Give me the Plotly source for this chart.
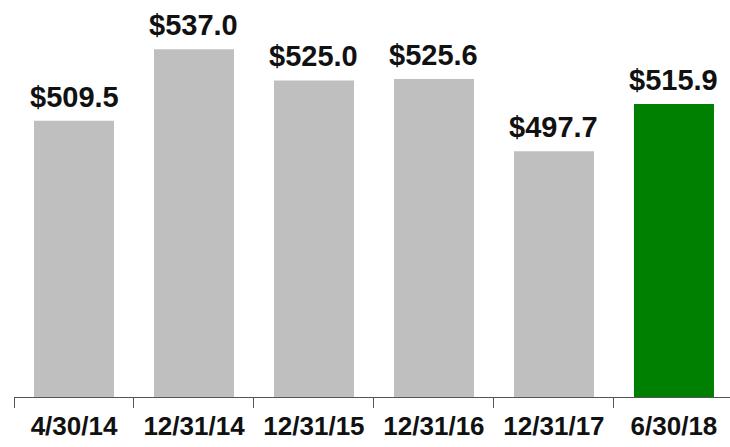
import plotly.graph_objects as go

categories = ["4/30/14", "12/31/14", "12/31/15", "12/31/16", "12/31/17", "6/30/18"]
values = [509.5, 537.0, 525.0, 525.6, 497.7, 515.9]
colors = ["#BFBFBF", "#BFBFBF", "#BFBFBF", "#BFBFBF", "#BFBFBF", "#008000"]
labels = [f"${v:.1f}" for v in values]

FONT = "Arial, Liberation Sans, sans-serif"

fig = go.Figure(
    go.Bar(
        x=categories,
        y=values,
        marker=dict(color=colors, line=dict(width=0)),
        width=0.667,
        hoverinfo="x+y",
    )
)

for c, v, t in zip(categories, values, labels):
    fig.add_annotation(
        x=c, y=v, text=t, showarrow=False,
        yanchor="bottom", xanchor="center", yshift=6,
        font=dict(family=FONT, size=29, color="#111111", weight="bold"),
    )

fig.update_layout(
    width=730,
    height=447,
    margin=dict(l=14, r=0, t=0, b=50, autoexpand=False),
    paper_bgcolor="white",
    plot_bgcolor="white",
    showlegend=False,
)
fig.update_xaxes(
    type="category",
    range=[-0.5, 5.467],
    automargin=False,
    showline=True,
    linecolor="#555555",
    linewidth=1,
    ticks="outside",
    ticklen=10,
    tickcolor="#555555",
    tickson="boundaries",
    ticklabelstandoff=6,
    tickfont=dict(family=FONT, size=26, color="#111111", weight="bold"),
    showgrid=False,
)
fig.update_yaxes(
    range=[403, 556],
    visible=False,
    automargin=False,
    showgrid=False,
    zeroline=False,
)

fig.write_html(
    "out.html",
    config={"displayModeBar": False},
    post_script="document.body.style.margin='0';",
)
